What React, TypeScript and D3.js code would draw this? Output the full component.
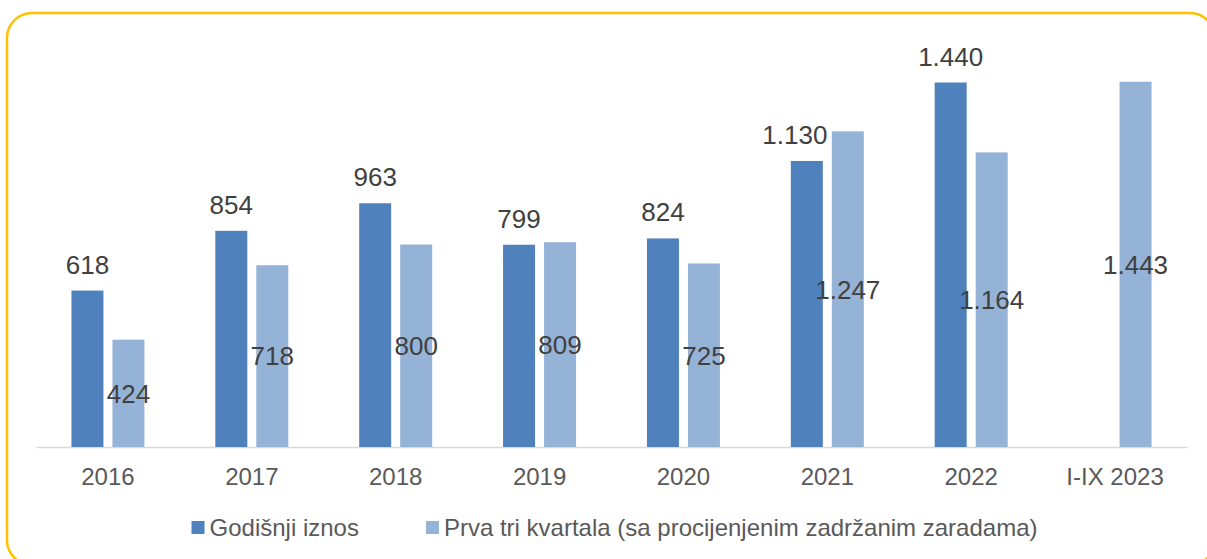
import React, { useEffect, useRef } from "react";
import * as d3 from "d3";

const categories = ["2016", "2017", "2018", "2019", "2020", "2021", "2022", "I-IX 2023"];
const seriesNames = ["Godišnji iznos", "Prva tri kvartala (sa procijenjenim zadržanim zaradama)"];
const annualValues: (number | null)[] = [618, 854, 963, 799, 824, 1130, 1440, null];
const firstThreeQuarters: number[] = [424, 718, 800, 809, 725, 1247, 1164, 1443];

const colors = ["#4F81BD", "#95B3D7"];

export default function App() {
  const ref = useRef<SVGSVGElement>(null);

  useEffect(() => {
    const width = 1207, height = 559;
    const svg = d3.select(ref.current);
    svg.selectAll("*").remove();

    const font = "'Liberation Sans', Arial, sans-serif";
    const fmt = d3.formatLocale({ decimal: ",", thousands: ".", grouping: [3], currency: ["", ""] }).format(",");

    // yellow frame, runs off the bottom/right of the picture
    svg.append("rect")
      .attr("x", 7).attr("y", 13)
      .attr("width", 1208).attr("height", 552)
      .attr("rx", 25)
      .attr("fill", "#fff")
      .attr("stroke", "#FFC000")
      .attr("stroke-width", 2.5);

    const left = 36, right = 1187, base = 447;

    const x0 = d3.scaleBand()
      .domain(categories)
      .range([left, right])
      .paddingInner(0.4926)
      .paddingOuter(0.2463);

    const x1 = d3.scaleBand<number>()
      .domain([0, 1])
      .range([0, x0.bandwidth()])
      .paddingInner(9 / 41);

    const y = d3.scaleLinear().domain([0, 1600]).range([base, 42]);

    // x axis
    const axis = svg.append("g")
      .attr("transform", "translate(0," + base + ")")
      .call(d3.axisBottom(x0).tickSize(0).tickSizeOuter(0));
    axis.select(".domain").attr("stroke", "#D9D9D9").attr("stroke-width", 1.5);
    axis.selectAll("text")
      .attr("y", 38).attr("dy", null)
      .attr("fill", "#595959")
      .style("font-family", font)
      .style("font-size", "24px");

    const rows = categories.map((c, i) => ({ c, vals: [annualValues[i], firstThreeQuarters[i]] }));

    const groups = svg.append("g")
      .selectAll("g")
      .data(rows)
      .enter()
      .append("g")
      .attr("transform", d => "translate(" + x0(d.c) + ",0)");

    groups.selectAll("rect")
      .data(d => d.vals.map((v, k) => ({ v, k })).filter(e => e.v != null))
      .enter()
      .append("rect")
      .attr("x", e => x1(e.k)!)
      .attr("y", e => y(e.v as number))
      .attr("width", x1.bandwidth())
      .attr("height", e => base - y(e.v as number))
      .attr("fill", e => colors[e.k]);

    // labels: annual above the bar, quarters in the middle
    // 2021 label was nudged left in the original so it doesn't touch the taller bar
    const nudge: Record<string, number> = { "2021": -12 };
    groups.each(function (d) {
      const g = d3.select(this);
      const a = d.vals[0];
      if (a != null) {
        g.append("text")
          .attr("x", x1(0)! + x1.bandwidth() / 2 + (nudge[d.c] || 0))
          .attr("y", y(a) - 17)
          .attr("text-anchor", "middle")
          .attr("fill", "#404040")
          .style("font-family", font)
          .style("font-size", "26px")
          .text(fmt(a));
      }
      const q = d.vals[1] as number;
      g.append("text")
        .attr("x", x1(1)! + x1.bandwidth() / 2)
        .attr("y", (y(q) + base) / 2)
        .attr("dy", "0.36em")
        .attr("text-anchor", "middle")
        .attr("fill", "#404040")
        .style("font-family", font)
        .style("font-size", "26px")
        .text(fmt(q));
    });

    // legend
    const legend = svg.append("g");
    const items = seriesNames.map((name, k) => {
      const it = legend.append("g");
      it.append("rect")
        .attr("x", 0).attr("y", 521)
        .attr("width", 13).attr("height", 13)
        .attr("fill", colors[k]);
      const t = it.append("text")
        .attr("x", 18).attr("y", 536)
        .attr("fill", "#595959")
        .style("font-family", font)
        .style("font-size", "24px")
        .text(name);
      const w = 18 + (t.node() as SVGTextElement).getComputedTextLength();
      return { it, w };
    });
    const gap = 67;
    const total = d3.sum(items, d => d.w) + gap * (items.length - 1);
    let cx = 614.5 - total / 2;
    items.forEach(d => {
      d.it.attr("transform", "translate(" + cx + ",0)");
      cx += d.w + gap;
    });

    svg.attr("width", width).attr("height", height);
  }, []);

  return (
    <svg
      ref={ref}
      width={1207}
      height={559}
      style={{ position: "absolute", left: 0, top: 0, display: "block", background: "#fff" }}
    />
  );
}
